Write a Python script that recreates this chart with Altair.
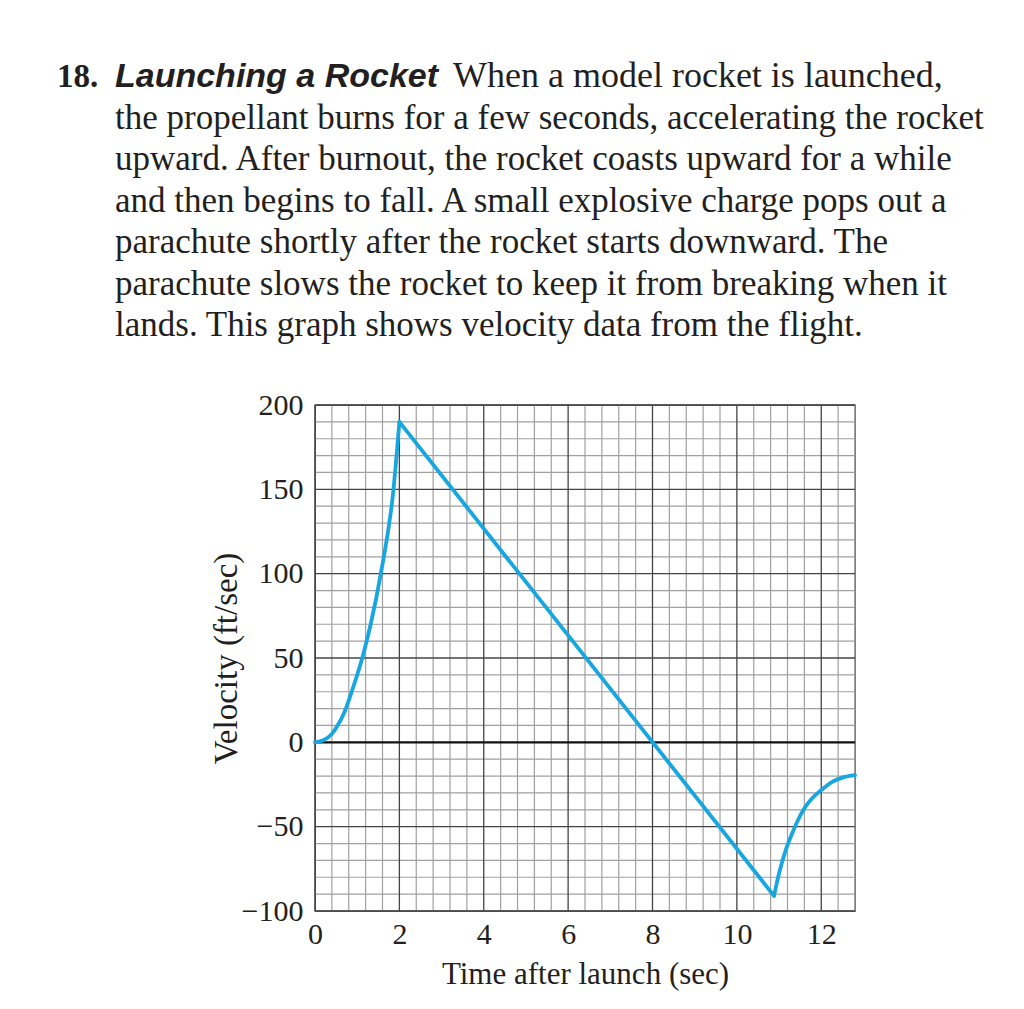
import altair as alt
import numpy as np
import pandas as pd

# ---- data ----
rise_t = [0, 0.2, 0.4, 0.5, 0.7, 0.87, 1.12, 1.32, 1.56, 1.86, 2.0]
rise_v = [0, 1.2, 5, 8.5, 18, 30, 50, 70, 100, 150, 190]
coast_t = [2.0, 10.88]
coast_v = [190, -91]
chute_t = [10.88, 11.0, 11.16, 11.31, 11.47, 11.63, 11.79, 12.0, 12.26, 12.5, 12.8]
chute_v = [-91, -77.6, -63.8, -54, -45, -38, -33, -28.3, -23.4, -20.9, -19.5]

x_ticks = [0, 2, 4, 6, 8, 10, 12]
y_ticks = [-100, -50, 0, 50, 100, 150, 200]

num_text = "18."
head_text = "Launching a Rocket"
first_line = "When a model rocket is launched,"
para_lines = [
    "the propellant burns for a few seconds, accelerating the rocket",
    "upward. After burnout, the rocket coasts upward for a while",
    "and then begins to fall. A small explosive charge pops out a",
    "parachute shortly after the rocket starts downward. The",
    "parachute slows the rocket to keep it from breaking when it",
    "lands. This graph shows velocity data from the flight.",
]
x_title = "Time after launch (sec)"
y_title = "Velocity (ft/sec)"

# ---- build ----
W, H = 540, 506
X0, Y0 = 315, 405  # page position of plot origin
INK = "#231f20"
SERIF = "Liberation Serif"

curve = pd.DataFrame({
    "t": rise_t + coast_t + chute_t,
    "v": rise_v + coast_v + chute_v,
    "seg": ["a"] * len(rise_t) + ["b"] * len(coast_t) + ["c"] * len(chute_t),
})

xs = alt.Scale(domain=[0, 12.8], nice=False, zero=False)
ys = alt.Scale(domain=[-100, 200], nice=False, zero=False)

minor_x = [round(v, 2) for v in np.arange(0, 12.81, 0.4) if abs(v / 2 - round(v / 2)) > 1e-6]
minor_y = [v for v in range(-100, 201, 10) if v % 50 != 0]
major_x = x_ticks
major_y = [v for v in y_ticks if v != 0]

rule_x_minor = alt.Chart(pd.DataFrame({"x": minor_x})).mark_rule(
    color="#a0a0a0", strokeWidth=1.2).encode(x=alt.X("x:Q", scale=xs))
rule_y_minor = alt.Chart(pd.DataFrame({"y": minor_y})).mark_rule(
    color="#a0a0a0", strokeWidth=1.2).encode(y=alt.Y("y:Q", scale=ys))
rule_x_major = alt.Chart(pd.DataFrame({"x": major_x})).mark_rule(
    color="#444444", strokeWidth=1.3).encode(x=alt.X("x:Q", scale=xs))
rule_y_major = alt.Chart(pd.DataFrame({"y": major_y})).mark_rule(
    color="#444444", strokeWidth=1.3).encode(y=alt.Y("y:Q", scale=ys))
zero_rule = alt.Chart(pd.DataFrame({"y": [0]})).mark_rule(
    color="#111111", strokeWidth=2.2).encode(y=alt.Y("y:Q", scale=ys))

line = alt.Chart(curve).mark_line(
    color="#16a6e0", strokeWidth=3.8, interpolate="monotone",
    strokeCap="round", strokeJoin="round",
).encode(
    x=alt.X("t:Q", scale=xs, title=x_title,
            axis=alt.Axis(values=x_ticks, grid=False, ticks=False, domain=False,
                          labelFlush=False, labelPadding=8, titlePadding=10)),
    y=alt.Y("v:Q", scale=ys, title=y_title,
            axis=alt.Axis(values=y_ticks, grid=False, ticks=False, domain=False,
                          labelPadding=12, titlePadding=-2, titleFontSize=33)),
    detail="seg:N",
)


def txt(s, px, py, size=35, font=SERIF, weight="normal", style="normal"):
    return alt.Chart(pd.DataFrame({"s": [s]})).mark_text(
        align="left", baseline="alphabetic", font=font, fontSize=size,
        fontWeight=weight, fontStyle=style, color=INK,
    ).encode(text="s:N", x=alt.value(px - X0), y=alt.value(py - Y0))


LH = 41.5
texts = [
    txt(num_text, 57, 87, size=33, weight="bold"),
    txt(head_text, 115, 87, size=34, font="Liberation Sans", weight="bold", style="italic"),
    txt(first_line, 453, 87, size=36),
]
for i, s in enumerate(para_lines):
    texts.append(txt(s, 115, 87 + LH * (i + 1)))

chart = alt.layer(
    rule_x_minor, rule_y_minor, rule_x_major, rule_y_major, zero_rule, line, *texts
).properties(
    width=W, height=H,
    background="white",
    autosize=alt.AutoSizeParams(type="none"),
    padding={"left": X0 - 8, "top": Y0 - 8, "right": 150, "bottom": 90},
).configure_view(
    stroke="#333333", strokeWidth=1.3
).configure_axis(
    labelFont=SERIF, labelFontSize=30, labelColor=INK,
    titleFont=SERIF, titleFontSize=31, titleColor=INK, titleFontWeight="normal",
)

chart.save("out.html", embed_options={"renderer": "svg", "actions": False})
